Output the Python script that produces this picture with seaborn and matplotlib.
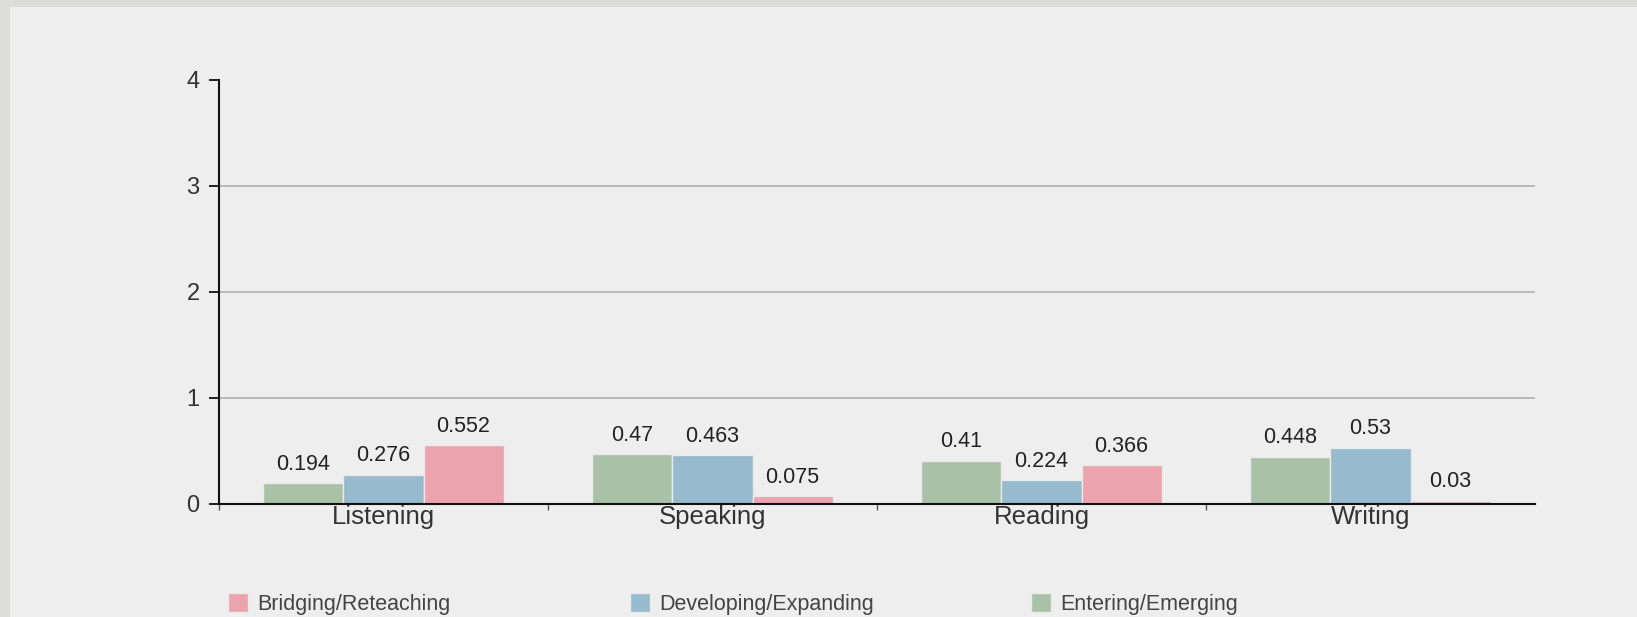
import pandas as pd
import matplotlib
matplotlib.use("Agg")
import matplotlib.pyplot as plt
from matplotlib.patches import Rectangle
import seaborn as sns

# Data
skills = ["Listening", "Speaking", "Reading", "Writing"]
levels = ["Entering/Emerging", "Developing/Expanding", "Bridging/Reteaching"]
entering = [0.194, 0.47, 0.41, 0.448]
developing = [0.276, 0.463, 0.224, 0.53]
bridging = [0.552, 0.075, 0.366, 0.03]
colors = ["#a9c1a7", "#97bace", "#eba3ad"]
y_ticks = [0, 1, 2, 3, 4]

rows = []
for level, values in zip(levels, [entering, developing, bridging]):
    for skill, v in zip(skills, values):
        rows.append({"skill": skill, "level": level, "value": v})
data = pd.DataFrame(rows)

sns.set_style("white")
plt.rcParams["font.family"] = ["Liberation Sans", "DejaVu Sans"]

fig = plt.figure(figsize=(16.37, 6.17), dpi=100)
fig.patch.set_facecolor("#dcdcdb")
fig.patches.append(Rectangle((10 / 1637, 0), 1, 1 - 7 / 617,
                             transform=fig.transFigure,
                             facecolor="#eeeeee", edgecolor="none", zorder=-5))

ax = fig.add_axes([219 / 1637, 1 - 504 / 617, (1535 - 219) / 1637, (504 - 80) / 617])
ax.set_facecolor("#eeeeee")

sns.barplot(
    data=data,
    x="skill",
    y="value",
    hue="level",
    order=skills,
    hue_order=levels,
    palette=colors,
    saturation=1,
    width=0.73,
    edgecolor="#eaeaea",
    linewidth=1,
    ax=ax
)

# Value labels
for container in ax.containers:
    ax.bar_label(container, fmt="%g", padding=6, fontsize=15.5, color="#222222")

ax.set_xlim(-0.5, 3.5)
ax.set_ylim(0, 4)
ax.set_yticks(y_ticks)
ax.set_xlabel("")
ax.set_ylabel("")

for side in ["top", "right"]:
    ax.spines[side].set_visible(False)
ax.spines["left"].set_color("#111111")
ax.spines["left"].set_linewidth(1.5)
ax.spines["bottom"].set_color("#111111")
ax.spines["bottom"].set_linewidth(1.5)

ax.yaxis.grid(True, color="#b0b0b0", linewidth=1.2)
ax.get_ygridlines()[-1].set_visible(False)
ax.set_axisbelow(True)

ax.tick_params(axis="y", left=True, length=7, width=1.3, color="#111111", pad=7,
               labelsize=17, labelcolor="#333333")
ax.tick_params(axis="x", which="major", bottom=False, length=0, pad=1,
               labelsize=18.5, labelcolor="#333333")
ax.set_xticks([-0.5, 0.5, 1.5, 2.5], minor=True)
ax.tick_params(axis="x", which="minor", bottom=True, length=4, width=1, color="#555555")

# Legend, one entry per slot, reversed order
handles, labels = ax.get_legend_handles_labels()
ax.get_legend().remove()
legend_x = [228, 630, 1031]
for x, h, lab in zip(legend_x, handles[::-1], labels[::-1]):
    leg = fig.legend(
        [h], [lab],
        loc="center left",
        bbox_to_anchor=(x / 1637, 1 - 604 / 617),
        frameon=False,
        fontsize=15.5,
        handlelength=0.95,
        handleheight=0.95,
        handletextpad=0.4,
        borderpad=0,
        borderaxespad=0
    )
    for t in leg.get_texts():
        t.set_color("#444444")

fig.savefig("out.png", dpi=100, facecolor=fig.get_facecolor())
